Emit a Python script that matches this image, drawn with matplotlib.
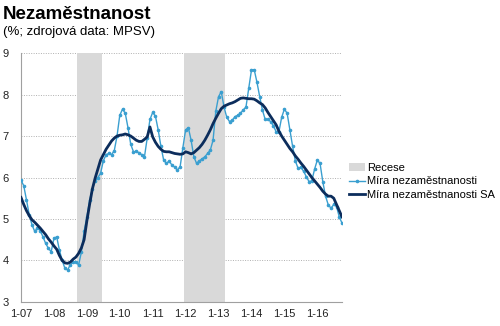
import numpy as np
import matplotlib.pyplot as plt
from matplotlib.patches import Patch
from matplotlib.lines import Line2D

plt.rcParams['font.family'] = ['Liberation Sans', 'DejaVu Sans']

# měsíční data 1/2007 - 10/2016
mira = [
    5.94, 5.80, 5.46, 5.10, 4.86, 4.70, 4.78, 4.72, 4.57, 4.41, 4.29, 4.21,  # 2007
    4.53, 4.57, 4.25, 4.00, 3.81, 3.77, 3.90, 3.95, 3.97, 3.89, 4.20, 4.70,  # 2008
    5.05, 5.45, 5.72, 5.92, 6.00, 6.10, 6.40, 6.55, 6.58, 6.55, 6.65, 7.00,  # 2009
    7.50, 7.65, 7.55, 7.20, 6.80, 6.62, 6.63, 6.60, 6.55, 6.50, 6.95, 7.40,  # 2010
    7.57, 7.48, 7.15, 6.75, 6.42, 6.34, 6.40, 6.30, 6.25, 6.18, 6.26, 6.72,  # 2011
    7.15, 7.20, 6.90, 6.50, 6.34, 6.40, 6.45, 6.50, 6.58, 6.66, 6.90, 7.60,  # 2012
    7.95, 8.07, 7.70, 7.45, 7.35, 7.38, 7.47, 7.50, 7.55, 7.63, 7.70, 8.15,  # 2013
    8.59, 8.60, 8.30, 7.95, 7.63, 7.40, 7.40, 7.35, 7.25, 7.10, 7.10, 7.45,  # 2014
    7.65, 7.55, 7.15, 6.75, 6.40, 6.22, 6.25, 6.15, 6.02, 5.90, 5.92, 6.20,  # 2015
    6.42, 6.34, 5.90, 5.55, 5.34, 5.26, 5.35, 5.30, 5.05, 4.90,              # 2016
]
mira_sa = [
    5.52, 5.35, 5.20, 5.08, 4.98, 4.92, 4.85, 4.78, 4.70, 4.62, 4.52, 4.44,
    4.35, 4.27, 4.12, 4.00, 3.94, 3.93, 3.96, 4.03, 4.08, 4.17, 4.30, 4.50,
    4.95, 5.35, 5.72, 5.98, 6.20, 6.42, 6.55, 6.68, 6.78, 6.88, 6.95, 7.00,
    7.02, 7.03, 7.05, 7.03, 7.00, 6.95, 6.90, 6.87, 6.87, 6.92, 6.98, 7.22,
    6.98, 6.85, 6.75, 6.68, 6.63, 6.62, 6.62, 6.60, 6.58, 6.57, 6.56, 6.57,
    6.62, 6.60, 6.57, 6.60, 6.66, 6.72, 6.80, 6.90, 7.02, 7.15, 7.30, 7.43,
    7.55, 7.66, 7.72, 7.75, 7.78, 7.80, 7.83, 7.87, 7.91, 7.92, 7.91, 7.90,
    7.90, 7.89, 7.85, 7.80, 7.76, 7.68, 7.57, 7.47, 7.37, 7.27, 7.12, 7.00,
    6.90, 6.80, 6.70, 6.62, 6.52, 6.44, 6.35, 6.27, 6.18, 6.09, 6.00, 5.92,
    5.84, 5.76, 5.67, 5.60, 5.55, 5.55, 5.50, 5.35, 5.20, 5.05,
]
# recese: 10/2008 - 6/2009 a 1/2012 - 3/2013
recese = np.zeros(len(mira))
recese[21:30] = 1
recese[60:75] = 1

tick_labels = ['1-07', '1-08', '1-09', '1-10', '1-11', '1-12', '1-13', '1-14', '1-15', '1-16']

x = np.arange(len(mira))

fig = plt.figure(figsize=(5.0, 3.26), dpi=100)
ax = fig.add_axes([0.042, 0.074, 0.642, 0.763])

ax.bar(x, recese * 6, bottom=3, width=1.0, color='#d9d9d9', linewidth=0, zorder=1)
ax.plot(x, mira, color='#3a9fd0', lw=1.0, marker='o', ms=1.6, zorder=3)
ax.plot(x, mira_sa, color='#0c2d5c', lw=2.0, zorder=4)

ax.set_xlim(0, len(mira) - 1)
ax.set_ylim(3, 9)
ax.set_yticks(range(3, 10))
ax.set_xticks(np.arange(0, len(mira), 12))
ax.set_xticklabels(tick_labels)
ax.tick_params(length=0, labelsize=8, colors='#222222')
ax.tick_params(axis='y', pad=9)
ax.tick_params(axis='x', pad=5)
for y in range(4, 10):
    ax.axhline(y, color='#b0b0b0', lw=0.7, ls=(0, (1, 1.5)), zorder=0)
for s in ['top', 'right']:
    ax.spines[s].set_visible(False)
ax.spines['left'].set_color('#a0a0a0')
ax.spines['bottom'].set_color('#a0a0a0')

fig.text(0.006, 0.955, 'Nezaměstnanost', fontsize=13.5, fontweight='bold', va='center')
fig.text(0.006, 0.903, '(%; zdrojová data: MPSV)', fontsize=9.5, va='center')

handles = [
    Patch(facecolor='#d9d9d9', edgecolor='none'),
    Line2D([], [], color='#3a9fd0', lw=1.0, marker='o', ms=1.6),
    Line2D([], [], color='#0c2d5c', lw=2.0),
]
fig.legend(handles, ['Recese', 'Míra nezaměstnanosti', 'Míra nezaměstnanosti SA'],
           loc='upper left', bbox_to_anchor=(0.69, 0.515), frameon=False, fontsize=8,
           handlelength=1.4, handletextpad=0.15, labelspacing=0.35, borderaxespad=0)

fig.savefig('out.png', dpi=100)
